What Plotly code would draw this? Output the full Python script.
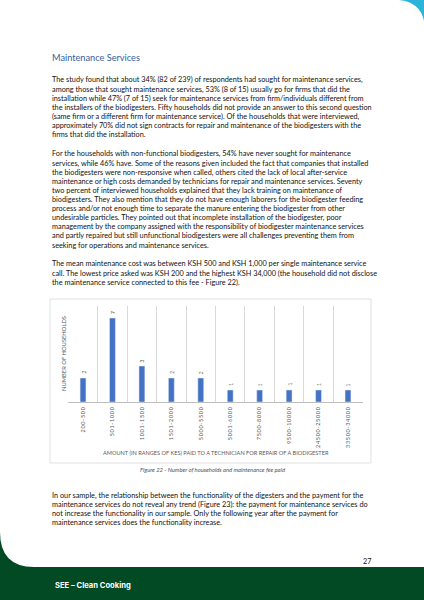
import plotly.graph_objects as go

# ---- data (Figure 22) ----
fee_ranges = ["200-500", "501-1000", "1001-1500", "1501-2000", "5000-5500",
              "5001-6000", "7500-8000", "9500-10000", "24500-25000", "33500-34000"]
households = [2, 7, 3, 2, 2, 1, 1, 1, 1, 1]

heading = "Maintenance Services"

para1 = [
    "The study found that about 34% (82 of 239) of respondents had sought for maintenance services,",
    "among those that sought maintenance services, 53% (8 of 15) usually go for firms that did the",
    "installation while 47% (7 of 15) seek for maintenance services from firm/individuals different from",
    "the installers of the biodigesters. Fifty households did not provide an answer to this second question",
    "(same firm or a different firm for maintenance service). Of the households that were interviewed,",
    "approximately 70% did not sign contracts for repair and maintenance of the biodigesters with the",
    "firms that did the installation.",
]
para2 = [
    "For the households with non-functional biodigesters, 54% have never sought for maintenance",
    "services, while 46% have. Some of the reasons given included the fact that companies that installed",
    "the biodigesters were non-responsive when called, others cited the lack of local after-service",
    "maintenance or high costs demanded by technicians for repair and maintenance services. Seventy",
    "two percent of interviewed households explained that they lack training on maintenance of",
    "biodigesters. They also mention that they do not have enough laborers for the biodigester feeding",
    "process and/or not enough time to separate the manure entering the biodigester from other",
    "undesirable particles. They pointed out that incomplete installation of the biodigester, poor",
    "management by the company assigned with the responsibility of biodigester maintenance services",
    "and partly repaired but still unfunctional biodigesters were all challenges preventing them from",
    "seeking for operations and maintenance services.",
]
para3 = [
    "The mean maintenance cost was between KSH 500 and KSH 1,000 per single maintenance service",
    "call. The lowest price asked was KSH 200 and the highest KSH 34,000 (the household did not disclose",
    "the maintenance service connected to this fee - Figure 22).",
]
para4 = [
    "In our sample, the relationship between the functionality of the digesters and the payment for the",
    "maintenance services do not reveal any trend (Figure 23): the payment for maintenance services do",
    "not increase the functionality in our sample. Only the following year after the payment for",
    "maintenance services does the functionality increase.",
]

x_title = "AMOUNT (IN RANGES OF KES) PAID TO A TECHNICIAN FOR REPAIR OF A BIODIGESTER"
y_title = "NUMBER OF HOUSEHOLDS"
caption = "Figure 22 - Number of households and maintenance fee paid"
page_no = "27"
footer = "SEE \u2013 Clean Cooking"

W, H = 424, 600
BODY = "Lato, 'Open Sans', sans-serif"
GREY = "#595959"


def px(x):
    return x / W


def py(y):
    return 1 - y / H


def path(points):
    # points in pixels -> svg path in paper units
    out = []
    for cmd, *xy in points:
        coords = " ".join("%.4f,%.4f" % (px(xy[i]), py(xy[i + 1])) for i in range(0, len(xy), 2))
        out.append(cmd + " " + coords)
    return " ".join(out) + " Z"


fig = go.Figure()
fig.add_trace(go.Bar(x=fee_ranges, y=households, marker_color="#4472C4", cliponaxis=False))

annotations = []


def text_line(s, x, y, size=7.3, color="#111111", anchor="left", **kw):
    annotations.append(dict(text=s, x=px(x), y=py(y), xref="paper", yref="paper",
                            xanchor=anchor, yanchor="middle", showarrow=False,
                            font=dict(family=kw.pop("family", BODY), size=size, color=color), **kw))


text_line(heading, 50, 57.5, size=9.2, color="#35609c")
for i, s in enumerate(para1):
    text_line(s, 50, 80 + i * 9.1)
for i, s in enumerate(para2):
    text_line(s, 50, 154 + i * 9.1)
for i, s in enumerate(para3):
    text_line(s, 50, 264 + i * 9.1)
for i, s in enumerate(para4):
    text_line(s, 50, 495 + i * 9.0)

text_line(y_title, 63, 354, size=5.8, color=GREY, anchor="center", textangle=-90)
text_line(x_title, 216, 452, size=5.6, color=GREY, anchor="center")
text_line("<i>" + caption + "</i>", 212, 469, size=5.8, color="#44546A", anchor="center")
text_line(page_no, 373, 561, size=7.3, anchor="right")
text_line("<b>" + footer + "</b>", 53, 585, size=7.6, color="white", family="Inter, Roboto, sans-serif")

# value labels above the bars
for cat, v in zip(fee_ranges, households):
    annotations.append(dict(x=cat, y=v, xref="x", yref="y", text=str(v), showarrow=False,
                            textangle=-90, xanchor="center", yanchor="bottom", yshift=2,
                            font=dict(family=BODY, size=5, color=GREY)))

shapes = [
    # chart frame
    dict(type="rect", xref="paper", yref="paper", x0=px(50), x1=px(371), y0=py(463), y1=py(299),
         line=dict(color="#d9d9d9", width=0.8), fillcolor="rgba(0,0,0,0)", layer="below"),
    # green footer with rounded page corner
    dict(type="path", xref="paper", yref="paper", fillcolor="#014a23", line=dict(width=0),
         path=path([("M", 0, 532), ("Q", 0, 567, 34, 567), ("L", 424, 567), ("L", 424, 600), ("L", 0, 600)])),
    # teal corner
    dict(type="path", xref="paper", yref="paper", fillcolor="#2bb3db", line=dict(width=0),
         path=path([("M", 399, 0), ("Q", 420, 2, 424, 21), ("L", 424, 0)])),
]

spaced = ["\u2009".join(c) for c in fee_ranges]

fig.update_layout(
    width=W, height=H,
    margin=dict(l=0, r=0, t=0, b=0),
    paper_bgcolor="white", plot_bgcolor="white",
    showlegend=False, bargap=0.8,
    annotations=annotations, shapes=shapes,
    xaxis=dict(domain=[px(68.3), px(362.7)], type="category",
               tickson="boundaries", ticks="", showgrid=True,
               gridcolor="#d9d9d9", gridwidth=0.8,
               showline=True, linecolor="#bfbfbf", linewidth=0.8,
               tickmode="array", tickvals=fee_ranges, ticktext=spaced,
               tickangle=-90, ticklabelstandoff=2,
               tickfont=dict(family=BODY, size=5.5, color=GREY)),
    yaxis=dict(domain=[py(402), py(306)], range=[0, 8],
               showticklabels=False, showgrid=False, zeroline=False),
)

fig.write_html("out.html", config={"displayModeBar": False},
               post_script="document.body.style.margin='0';")
